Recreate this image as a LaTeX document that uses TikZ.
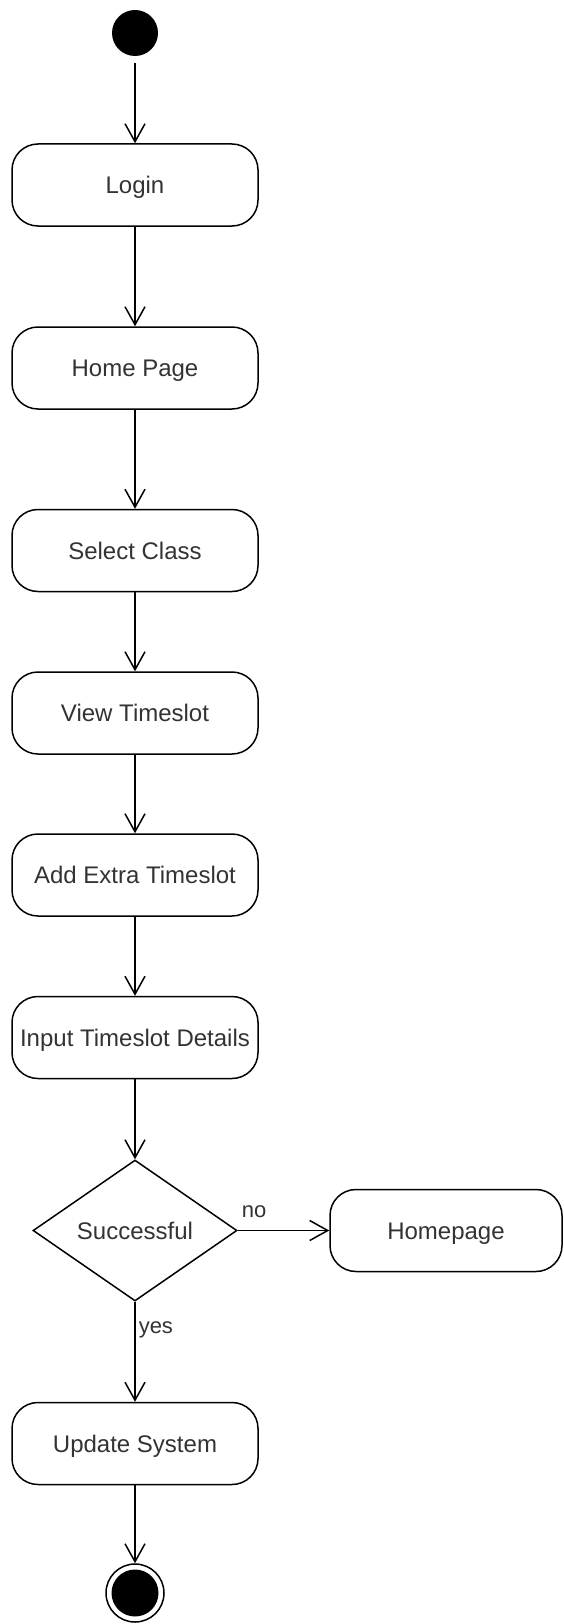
\documentclass[tikz,border=0pt]{standalone}
\usepackage{fontspec}
\setmainfont{Liberation Sans}
\usetikzlibrary{arrows.meta,shapes.geometric}
\begin{document}
\begin{tikzpicture}[x=1pt,y=-1pt,
  line width=1.5pt,
  activity/.style={draw=black, fill=white, rounded corners=26pt,
    minimum width=246pt, minimum height=82pt, inner sep=0pt,
    font=\fontsize{24pt}{28pt}\selectfont, text=black!80,
    text height=17pt, text depth=0pt},
  decision/.style={draw=black, fill=white, diamond, shape aspect=1.45,
    minimum width=204pt, minimum height=141pt, inner sep=0pt,
    font=\fontsize{24pt}{28pt}\selectfont, text=black!80},
  flow/.style={draw=black, -{Straight Barb[length=18pt,width=20pt]}},
  guard/.style={font=\fontsize{22pt}{26pt}\selectfont, text=black!80, inner sep=0pt}
]
\useasboundingbox[fill=white] (0,0) rectangle (564,1624);

% initial node
\node[circle, fill=black, minimum size=46pt, inner sep=0pt] (start) at (135,33) {};

% activities
\node[activity] (login)   at (135,185)    {Login};
\node[activity] (home)    at (135,368)    {Home Page};
\node[activity] (select)  at (135,550.5)  {Select Class};
\node[activity] (view)    at (135,713)    {View Timeslot};
\node[activity] (addslot) at (135,875)    {Add Extra Timeslot};
\node[activity] (input)   at (135,1037.5) {Input Timeslot Details};
\node[decision] (check)   at (135,1230.5) {Successful};
\node[activity, minimum width=232pt] (back) at (446,1230.5) {Homepage};
\node[activity] (update)  at (135,1443.5) {Update System};

% final node
\node[circle, draw=black, line width=1.5pt, minimum size=58pt, inner sep=0pt] (stop) at (135,1593) {};
\fill[black] (stop.center) circle (23.5pt);

% control flow
\draw[flow, shorten <=6pt] (start) -- (login);
\draw[flow] (login) -- (home);
\draw[flow] (home) -- (select);
\draw[flow] (select) -- (view);
\draw[flow] (view) -- (addslot);
\draw[flow] (addslot) -- (input);
\draw[flow] (input) -- (check);
\draw[flow] (check.east) -- node[guard, pos=0.18, anchor=south, yshift=12pt] {no} (back.west);
\draw[flow] (check.south) -- node[guard, pos=0.28, anchor=west, xshift=3pt] {yes} (update.north);
\draw[flow] (update) -- (stop);
\end{tikzpicture}
\end{document}
